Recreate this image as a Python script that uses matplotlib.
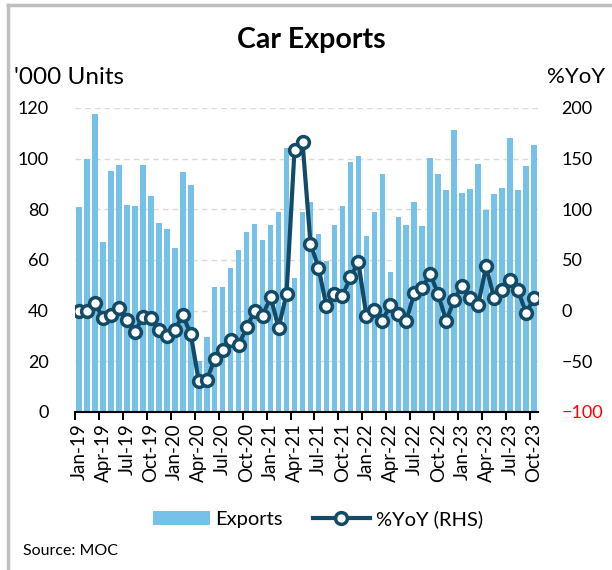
import matplotlib.pyplot as plt
from matplotlib.lines import Line2D
import numpy as np

plt.rcParams['font.family'] = ['Lato', 'DejaVu Sans']

# Dados mensais Jan-19 .. Oct-23
anos = ['19', '20', '21', '22', '23']
meses_nome = ['Jan', 'Feb', 'Mar', 'Apr', 'May', 'Jun', 'Jul', 'Aug', 'Sep', 'Oct', 'Nov', 'Dec']
meses = [m + '-' + a for a in anos for m in meses_nome][:58]

exports = [81, 100, 117.5, 67, 95, 97.4, 81.7, 81.2, 97.4, 85.4, 74.8, 72.2,
           64.8, 94.9, 89.6, 20.2, 29.6, 49.5, 49.5, 56.9, 63.8, 71.1, 74.3, 68.0,
           73.8, 79.1, 104.3, 52.7, 79.1, 82.7, 70.1, 59.6, 73.8, 81.2, 98.6, 101.2,
           69.6, 79.1, 93.8, 55.3, 76.9, 73.8, 82.7, 73.3, 100.1, 93.8, 87.5, 111.2,
           86.4, 88.0, 98.0, 79.6, 85.9, 88.5, 108.0, 87.5, 97.0, 105.4]

yoy = [0, 0, 7.6, -7.6, -4.3, 2.6, -8.9, -20.8, -6.3, -7.2, -18.8, -24.7,
       -18.8, -4.6, -23.1, -69.5, -68.5, -47.8, -38.5, -29.3, -33.9, -16.5, -0.3, -5.3,
       13.8, -16.8, 16.5, 159, 166.3, 66.2, 42.5, 4.3, 16.5, 14.3, 33.1, 47.8,
       -4.9, 0.3, -10.2, 5.6, -3.6, -10.2, 17.8, 22.7, 36.2, 16.1, -10.2, 10.9,
       24.4, 12.2, 5.6, 43.8, 12.2, 20.1, 30.6, 20.1, -2.3, 12.2]

cor_barra = '#75C1E8'
cor_linha = '#134B66'

fig = plt.figure(figsize=(6.12, 5.70), dpi=100)
ax = fig.add_axes([75 / 612, 158 / 570, 463 / 612, 304 / 570])
x = np.arange(len(meses))

ax.bar(x, exports, width=0.7, color=cor_barra, label='Exports', zorder=2)
ax.set_ylim(0, 120)
ax.set_yticks(range(0, 121, 20))
ax.set_xlim(-0.5, len(meses) - 0.5)
ax.grid(axis='y', color='#D9D9D9', linestyle=(0, (4, 3)), linewidth=1, zorder=0)
ax.set_axisbelow(True)
for s in ['top', 'left', 'right']:
    ax.spines[s].set_visible(False)
ax.spines['bottom'].set_linewidth(1.5)
ax.spines['bottom'].set_zorder(5)
ax.tick_params(axis='y', length=0, labelsize=13, pad=19)
ax.set_xticks(x[::3])
ax.set_xticklabels(meses[::3], rotation=90, fontsize=13.5)
ax.tick_params(axis='x', which='major', length=0, pad=8)
ax.set_xticks(np.arange(-0.5, len(meses), 3), minor=True)
ax.tick_params(axis='x', which='minor', length=6, width=1.5)

ax2 = ax.twinx()
ax2.plot(x, yoy, color=cor_linha, linewidth=3, marker='o', markersize=8.5,
         markerfacecolor='white', markeredgecolor=cor_linha, markeredgewidth=2.5,
         label='%YoY (RHS)', zorder=3)
ax2.set_ylim(-100, 200)
ax2.set_yticks(range(-100, 201, 50))
for s in ['top', 'left', 'right', 'bottom']:
    ax2.spines[s].set_visible(False)
ax2.tick_params(axis='y', length=0, labelsize=13, pad=17)
ax2.get_yticklabels()[0].set_color('red')

fig.text(311 / 612, 1 - 40 / 570, 'Car Exports', ha='center', va='center',
         fontsize=20.5, fontweight='bold')
fig.text(14 / 612, 1 - 77 / 570, "'000 Units", ha='left', va='center', fontsize=17.5)
fig.text(605 / 612, 1 - 77 / 570, '%YoY', ha='right', va='center', fontsize=16)
fig.text(23 / 612, 1 - 551 / 570, 'Source: MOC', ha='left', va='center', fontsize=11.5)

h1, l1 = ax.get_legend_handles_labels()
h2, l2 = ax2.get_legend_handles_labels()
fig.legend(h1 + h2, l1 + l2, loc='center', bbox_to_anchor=(318 / 612, 1 - 519 / 570),
           ncol=2, frameon=False, fontsize=14.5, handlelength=2.8, columnspacing=1.5,
           handletextpad=0.3)

# moldura cinza (topo e esquerda)
fig.add_artist(Line2D([8 / 612, 1], [1 - 5 / 570, 1 - 5 / 570], transform=fig.transFigure,
                      color='#BFBFBF', linewidth=2.5))
fig.add_artist(Line2D([8 / 612, 8 / 612], [0, 1 - 5 / 570], transform=fig.transFigure,
                      color='#BFBFBF', linewidth=2.5))

plt.savefig('out.png', dpi=100)
